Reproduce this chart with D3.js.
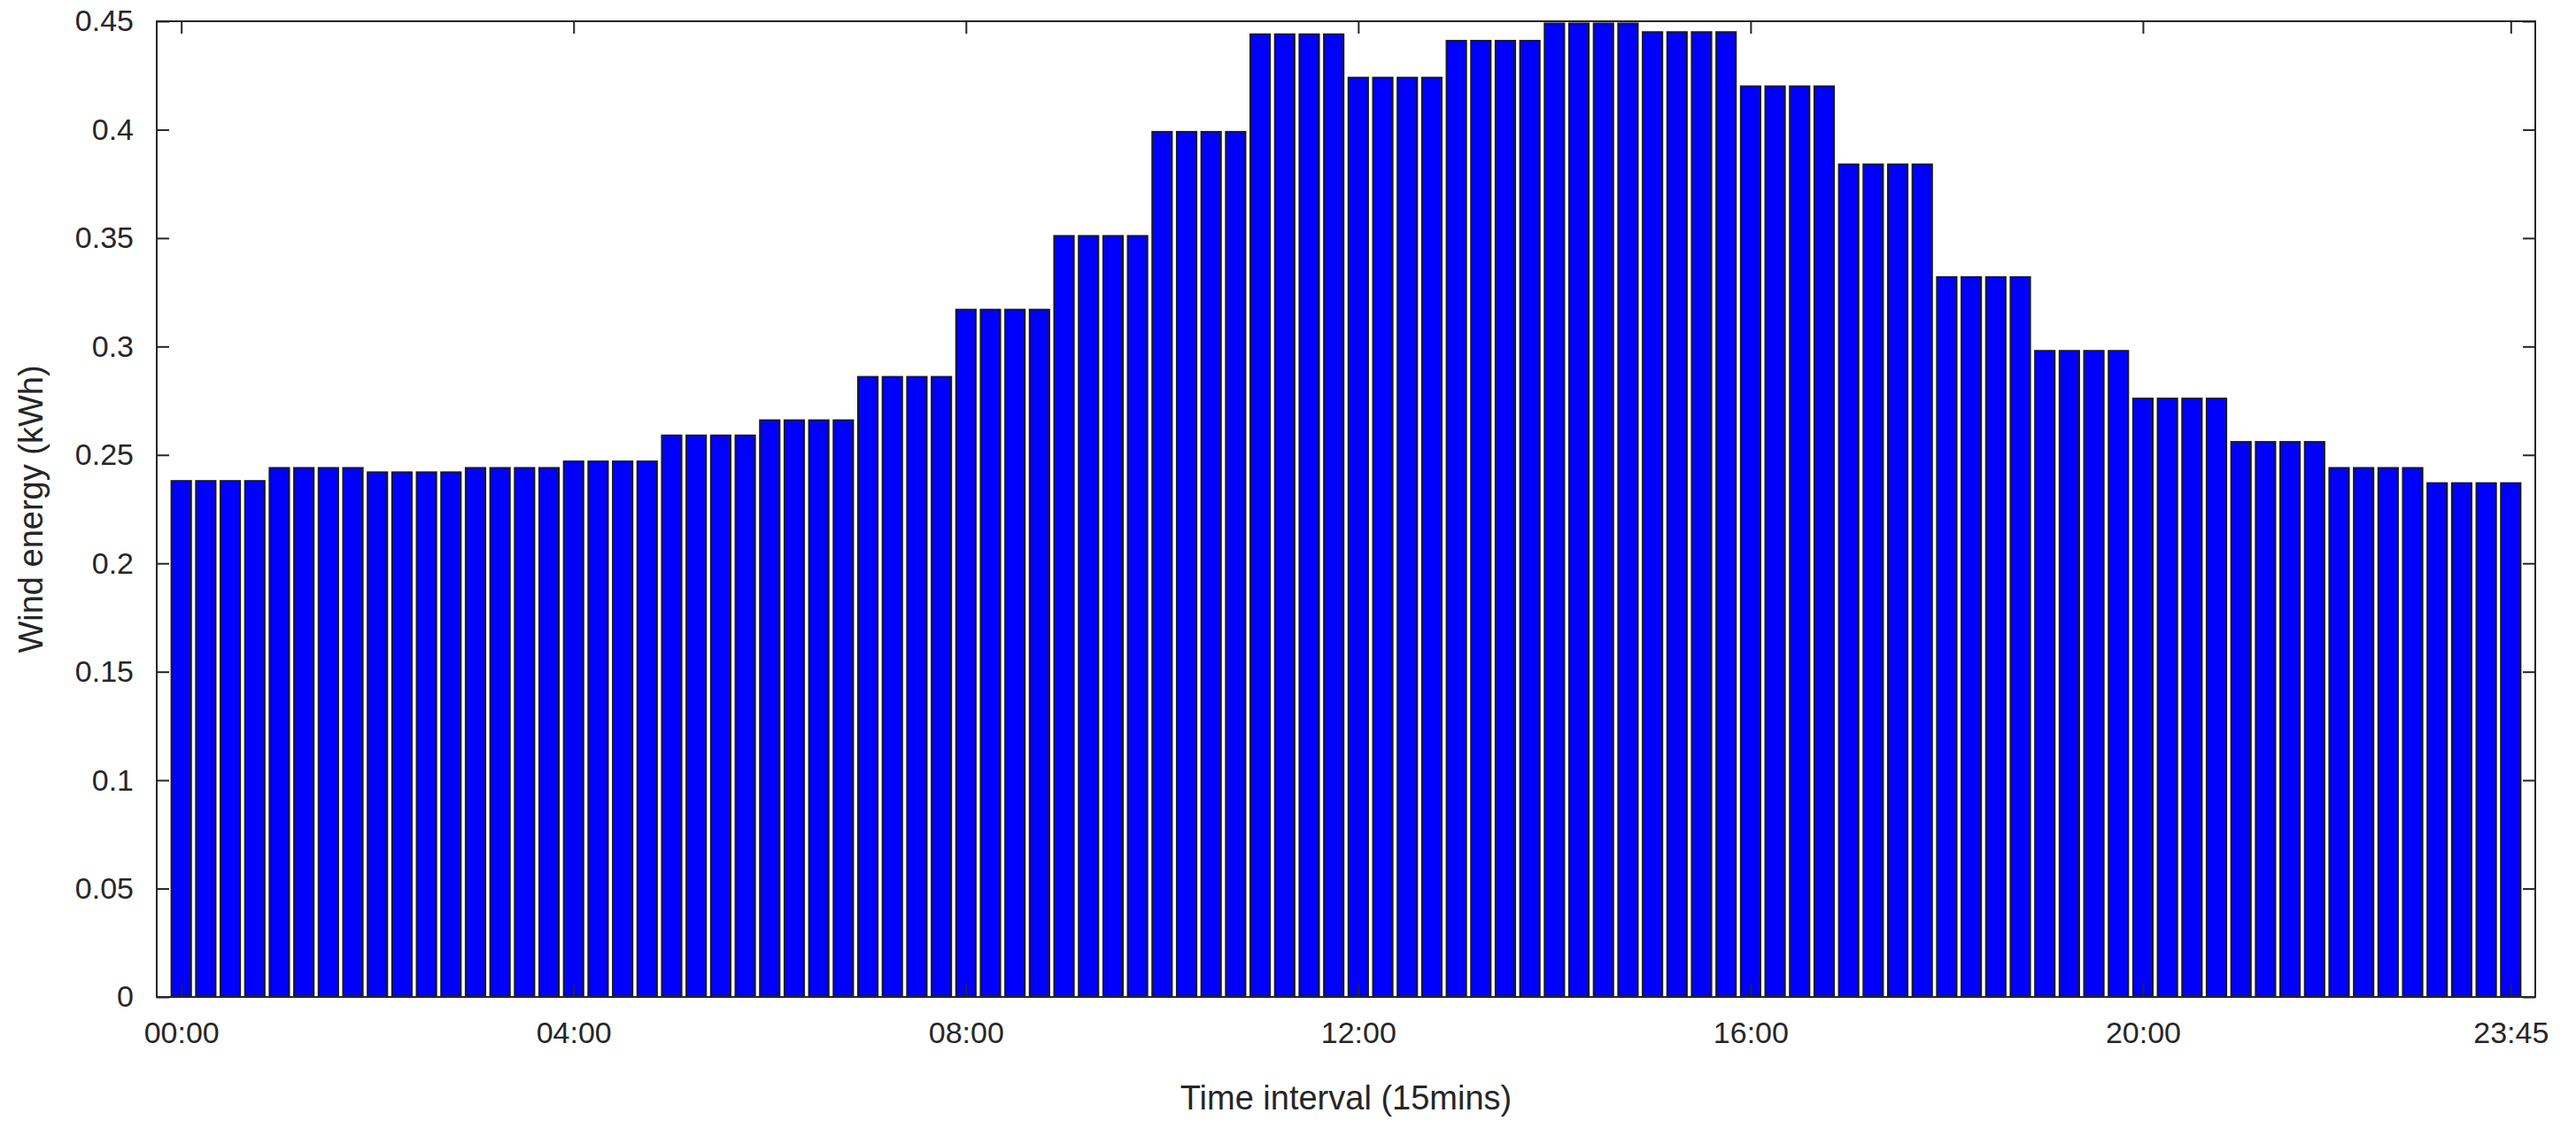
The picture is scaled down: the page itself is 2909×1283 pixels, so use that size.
<!DOCTYPE html>
<html><head><meta charset="utf-8">
<script src="https://cdn.jsdelivr.net/npm/d3@7"></script>
<style>body{margin:0;background:#fff}</style>
</head><body><div id="chart"></div>
<script>
// hourly wind energy (kWh), each hour repeated for its four 15-min slots
var hourly = [0.238, 0.244, 0.242, 0.244, 0.247, 0.259, 0.266, 0.286,
              0.317, 0.351, 0.399, 0.444, 0.424, 0.441, 0.449, 0.445,
              0.420, 0.384, 0.332, 0.298, 0.276, 0.256, 0.244, 0.237];
var values = [];
hourly.forEach(function (v) { for (var k = 0; k < 4; k++) values.push(v); });
var tickIdx = [1, 17, 33, 49, 65, 81, 96];
var tickLabels = ['00:00', '04:00', '08:00', '12:00', '16:00', '20:00', '23:45'];
var yTicks = [0, 0.05, 0.1, 0.15, 0.2, 0.25, 0.3, 0.35, 0.4, 0.45];

var W = 2909, H = 1283;
var m = { l: 177, r: 46, t: 24, b: 157 };
var svg = d3.select('#chart').append('svg').attr('width', W).attr('height', H)
  .style('font-family', 'Arial, Liberation Sans, sans-serif');

var x = d3.scaleLinear().domain([0, 97]).range([m.l, W - m.r]);
var y = d3.scaleLinear().domain([0, 0.45]).range([H - m.b, m.t]);
var bw = (x(1) - x(0)) * 0.8;

svg.append('g').selectAll('rect').data(values).join('rect')
  .attr('x', function (d, i) { return x(i + 1) - bw / 2; })
  .attr('y', function (d) { return y(d); })
  .attr('width', bw)
  .attr('height', function (d) { return y(0) - y(d); })
  .attr('fill', '#0000ff').attr('stroke', '#1a1a1a').attr('stroke-width', 2);

function styleAxis(g) {
  g.select('.domain').remove();
  g.selectAll('line').attr('stroke', '#262626').attr('stroke-width', 2);
  g.selectAll('text').attr('fill', '#262626').style('font-size', '34px');
}
var xAxis = d3.axisBottom(x).tickValues(tickIdx)
  .tickFormat(function (d, i) { return tickLabels[i]; }).tickSizeInner(-14).tickPadding(28);
svg.append('g').attr('transform', 'translate(0,' + (H - m.b) + ')').call(xAxis).call(styleAxis);
svg.append('g').attr('transform', 'translate(0,' + m.t + ')')
  .call(d3.axisTop(x).tickValues(tickIdx).tickFormat('').tickSizeInner(-14)).call(styleAxis);
svg.append('g').attr('transform', 'translate(' + m.l + ',0)')
  .call(d3.axisLeft(y).tickValues(yTicks).tickFormat(d3.format('~g')).tickSizeInner(-14).tickPadding(26))
  .call(styleAxis);
svg.append('g').attr('transform', 'translate(' + (W - m.r) + ',0)')
  .call(d3.axisRight(y).tickValues(yTicks).tickFormat('').tickSizeInner(-14)).call(styleAxis);

svg.append('rect').attr('x', m.l).attr('y', m.t)
  .attr('width', W - m.l - m.r).attr('height', H - m.t - m.b)
  .attr('fill', 'none').attr('stroke', '#262626').attr('stroke-width', 2);

svg.append('text').attr('x', (m.l + W - m.r) / 2).attr('y', H - 30)
  .attr('text-anchor', 'middle').attr('fill', '#262626').style('font-size', '38px')
  .text('Time interval (15mins)');
svg.append('text').attr('transform', 'translate(48,' + ((m.t + H - m.b) / 2) + ') rotate(-90)')
  .attr('text-anchor', 'middle').attr('fill', '#262626').style('font-size', '38px')
  .text('Wind energy (kWh)');
</script></body></html>
